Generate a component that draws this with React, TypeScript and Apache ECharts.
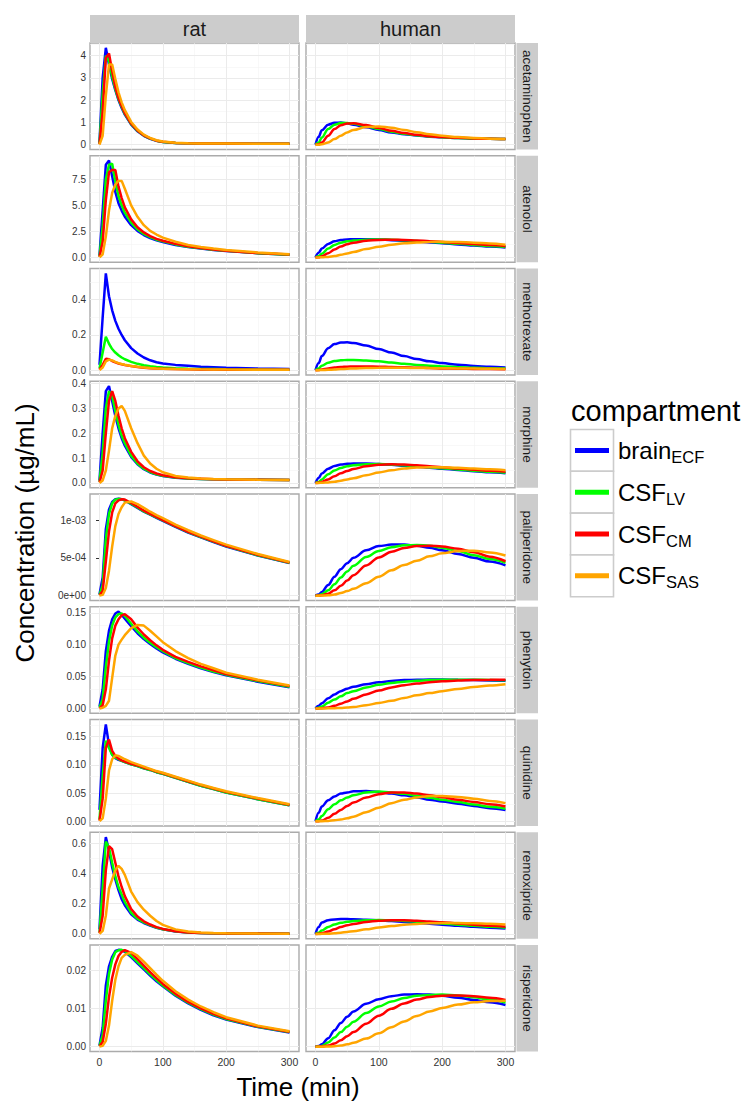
import React, { useEffect, useRef } from "react";
import * as echarts from "echarts";

// ---------- data ----------
const timeRat = [0, 5, 10, 15, 20, 25, 30, 35, 40, 50, 60, 70, 80, 90, 100, 120, 140, 160, 180, 200, 250, 300];
const timeHuman = [0, 5, 10, 20, 30, 40, 50, 60, 80, 100, 120, 140, 160, 180, 200, 225, 250, 275, 300];

const species = ["rat", "human"];
const drugs = ["acetaminophen", "atenolol", "methotrexate", "morphine", "paliperidone", "phenytoin", "quinidine", "remoxipride", "risperidone"];
const compartments = ["brainECF", "CSFLV", "CSFCM", "CSFSAS"];
const compartmentMain = ["brain", "CSF", "CSF", "CSF"];
const compartmentSub = ["ECF", "LV", "CM", "SAS"];
const compartmentColors = ["#0000FF", "#00FF00", "#FF0000", "#FFA500"];

// order inside each panel array: brainECF, CSFLV, CSFCM, CSFSAS
const acetaminophenRat = [
  [0.1, 3.0, 4.35, 3.6, 2.95, 2.45, 2.0, 1.65, 1.35, 0.9, 0.6, 0.4, 0.26, 0.17, 0.12, 0.08, 0.06, 0.05, 0.05, 0.05, 0.04, 0.04],
  [0.05, 2.3, 4.0, 3.75, 3.05, 2.5, 2.05, 1.7, 1.38, 0.92, 0.62, 0.41, 0.27, 0.18, 0.12, 0.08, 0.06, 0.05, 0.05, 0.05, 0.04, 0.04],
  [0.02, 1.5, 3.9, 4.1, 3.3, 2.6, 2.1, 1.75, 1.42, 0.95, 0.64, 0.42, 0.28, 0.18, 0.13, 0.08, 0.06, 0.05, 0.05, 0.05, 0.04, 0.04],
  [0, 0.4, 2.2, 3.6, 3.6, 2.95, 2.35, 1.9, 1.55, 1.02, 0.68, 0.45, 0.3, 0.2, 0.14, 0.09, 0.065, 0.055, 0.05, 0.05, 0.045, 0.04],
];
const acetaminophenHuman = [
  [0, 0.35, 0.65, 0.9, 0.98, 0.99, 0.96, 0.9, 0.78, 0.66, 0.55, 0.47, 0.41, 0.36, 0.33, 0.3, 0.28, 0.26, 0.25],
  [0, 0.1, 0.32, 0.7, 0.9, 0.97, 0.97, 0.94, 0.83, 0.7, 0.58, 0.49, 0.42, 0.37, 0.33, 0.3, 0.28, 0.26, 0.25],
  [0, 0.02, 0.1, 0.4, 0.7, 0.87, 0.95, 0.96, 0.88, 0.75, 0.62, 0.52, 0.44, 0.38, 0.34, 0.31, 0.28, 0.26, 0.25],
  [0, 0, 0.02, 0.1, 0.25, 0.4, 0.55, 0.66, 0.79, 0.82, 0.76, 0.66, 0.56, 0.47, 0.4, 0.34, 0.3, 0.27, 0.25],
];
const atenololRat = [
  [0.2, 4.5, 8.9, 9.3, 7.8, 6.3, 5.2, 4.5, 3.9, 3.1, 2.55, 2.15, 1.85, 1.65, 1.48, 1.2, 1.0, 0.85, 0.72, 0.62, 0.4, 0.25],
  [0.1, 3.0, 7.5, 8.9, 9.0, 7.3, 5.9, 5.0, 4.3, 3.35, 2.7, 2.25, 1.95, 1.7, 1.55, 1.25, 1.03, 0.87, 0.74, 0.63, 0.41, 0.26],
  [0.05, 1.5, 5.5, 8.2, 8.4, 8.4, 6.8, 5.7, 4.8, 3.65, 2.9, 2.4, 2.05, 1.78, 1.6, 1.3, 1.07, 0.9, 0.76, 0.65, 0.42, 0.27],
  [0, 0.3, 2.0, 4.5, 6.2, 7.0, 7.35, 7.35, 6.6, 5.0, 3.9, 3.1, 2.55, 2.2, 1.9, 1.5, 1.2, 1.0, 0.85, 0.72, 0.47, 0.3],
];
const atenololHuman = [
  [0, 0.45, 0.85, 1.3, 1.55, 1.68, 1.73, 1.75, 1.75, 1.72, 1.66, 1.6, 1.52, 1.44, 1.36, 1.25, 1.15, 1.05, 0.95],
  [0, 0.1, 0.35, 0.85, 1.2, 1.42, 1.55, 1.62, 1.7, 1.72, 1.7, 1.65, 1.58, 1.5, 1.42, 1.31, 1.2, 1.1, 1.0],
  [0, 0.02, 0.1, 0.4, 0.75, 1.05, 1.27, 1.42, 1.6, 1.68, 1.7, 1.68, 1.63, 1.56, 1.48, 1.38, 1.28, 1.18, 1.08],
  [0, 0, 0.01, 0.05, 0.13, 0.25, 0.38, 0.52, 0.8, 1.03, 1.22, 1.35, 1.44, 1.49, 1.5, 1.48, 1.42, 1.33, 1.22],
];
const methotrexateRat = [
  [0.03, 0.3, 0.55, 0.42, 0.34, 0.28, 0.235, 0.2, 0.17, 0.125, 0.095, 0.072, 0.056, 0.045, 0.038, 0.03, 0.025, 0.02, 0.017, 0.014, 0.009, 0.006],
  [0.01, 0.1, 0.19, 0.15, 0.12, 0.1, 0.085, 0.072, 0.062, 0.047, 0.036, 0.028, 0.022, 0.018, 0.015, 0.011, 0.008, 0.007, 0.006, 0.005, 0.004, 0.003],
  [0.003, 0.03, 0.065, 0.062, 0.052, 0.044, 0.038, 0.033, 0.029, 0.023, 0.018, 0.014, 0.011, 0.009, 0.008, 0.006, 0.005, 0.004, 0.0035, 0.003, 0.0025, 0.002],
  [0, 0.015, 0.05, 0.06, 0.055, 0.047, 0.04, 0.035, 0.031, 0.024, 0.019, 0.015, 0.012, 0.01, 0.0085, 0.0065, 0.0053, 0.0045, 0.004, 0.0035, 0.0028, 0.0022],
];
const methotrexateHuman = [
  [0, 0.04, 0.08, 0.125, 0.148, 0.157, 0.158, 0.154, 0.14, 0.12, 0.1, 0.08, 0.063, 0.05, 0.04, 0.031, 0.024, 0.019, 0.015],
  [0, 0.01, 0.025, 0.042, 0.052, 0.056, 0.058, 0.058, 0.055, 0.05, 0.043, 0.036, 0.03, 0.025, 0.021, 0.017, 0.014, 0.011, 0.009],
  [0, 0.001, 0.004, 0.01, 0.015, 0.018, 0.02, 0.021, 0.021, 0.02, 0.018, 0.016, 0.014, 0.012, 0.01, 0.0085, 0.007, 0.006, 0.005],
  [0, 0, 0.0005, 0.002, 0.004, 0.006, 0.008, 0.0095, 0.012, 0.013, 0.0135, 0.013, 0.0125, 0.012, 0.011, 0.01, 0.009, 0.008, 0.007],
];
const morphineRat = [
  [0.01, 0.2, 0.37, 0.39, 0.33, 0.27, 0.22, 0.18, 0.15, 0.105, 0.075, 0.055, 0.042, 0.034, 0.028, 0.021, 0.018, 0.016, 0.015, 0.014, 0.013, 0.012],
  [0.005, 0.12, 0.3, 0.37, 0.35, 0.29, 0.235, 0.19, 0.16, 0.11, 0.078, 0.057, 0.044, 0.035, 0.029, 0.022, 0.018, 0.016, 0.015, 0.014, 0.013, 0.012],
  [0.002, 0.05, 0.2, 0.33, 0.37, 0.33, 0.27, 0.22, 0.18, 0.125, 0.087, 0.063, 0.048, 0.038, 0.031, 0.023, 0.019, 0.017, 0.015, 0.014, 0.013, 0.012],
  [0, 0.01, 0.05, 0.13, 0.22, 0.27, 0.3, 0.31, 0.29, 0.22, 0.16, 0.11, 0.078, 0.057, 0.043, 0.028, 0.022, 0.018, 0.016, 0.015, 0.013, 0.012],
];
const morphineHuman = [
  [0, 0.02, 0.038, 0.057, 0.068, 0.074, 0.077, 0.078, 0.078, 0.076, 0.073, 0.069, 0.065, 0.061, 0.057, 0.052, 0.047, 0.043, 0.039],
  [0, 0.004, 0.014, 0.035, 0.05, 0.06, 0.067, 0.071, 0.075, 0.076, 0.074, 0.071, 0.067, 0.063, 0.059, 0.054, 0.049, 0.045, 0.041],
  [0, 0.001, 0.004, 0.014, 0.027, 0.039, 0.048, 0.056, 0.067, 0.073, 0.075, 0.074, 0.071, 0.067, 0.063, 0.058, 0.053, 0.049, 0.045],
  [0, 0, 0.0005, 0.002, 0.005, 0.009, 0.014, 0.019, 0.031, 0.042, 0.051, 0.058, 0.062, 0.063, 0.063, 0.061, 0.058, 0.055, 0.051],
];
const paliperidoneRat = [
  [2e-5, 2.4e-4, 8.8e-4, 1.14e-3, 1.24e-3, 1.275e-3, 1.28e-3, 1.275e-3, 1.26e-3, 1.21e-3, 1.16e-3, 1.11e-3, 1.07e-3, 1.03e-3, 9.9e-4, 9.1e-4, 8.35e-4, 7.7e-4, 7.1e-4, 6.5e-4, 5.3e-4, 4.3e-4],
  [1e-5, 1.4e-4, 7.5e-4, 1.08e-3, 1.22e-3, 1.27e-3, 1.28e-3, 1.275e-3, 1.26e-3, 1.215e-3, 1.165e-3, 1.115e-3, 1.075e-3, 1.035e-3, 9.95e-4, 9.15e-4, 8.4e-4, 7.75e-4, 7.15e-4, 6.55e-4, 5.35e-4, 4.33e-4],
  [5e-6, 6e-5, 4.5e-4, 8.5e-4, 1.1e-3, 1.22e-3, 1.26e-3, 1.275e-3, 1.27e-3, 1.225e-3, 1.175e-3, 1.125e-3, 1.08e-3, 1.04e-3, 1.0e-3, 9.2e-4, 8.45e-4, 7.8e-4, 7.2e-4, 6.6e-4, 5.4e-4, 4.38e-4],
  [0, 1e-5, 1e-4, 3.3e-4, 6.5e-4, 9.2e-4, 1.08e-3, 1.17e-3, 1.23e-3, 1.245e-3, 1.21e-3, 1.16e-3, 1.11e-3, 1.065e-3, 1.025e-3, 9.4e-4, 8.65e-4, 7.95e-4, 7.35e-4, 6.75e-4, 5.5e-4, 4.45e-4],
];
const paliperidoneHuman = [
  [0, 1.5e-5, 5e-5, 1.4e-4, 2.5e-4, 3.5e-4, 4.3e-4, 5.0e-4, 6.0e-4, 6.55e-4, 6.75e-4, 6.75e-4, 6.6e-4, 6.35e-4, 6.0e-4, 5.5e-4, 5.0e-4, 4.5e-4, 4.0e-4],
  [0, 5e-6, 2e-5, 7e-5, 1.5e-4, 2.4e-4, 3.2e-4, 3.95e-4, 5.1e-4, 5.9e-4, 6.4e-4, 6.65e-4, 6.7e-4, 6.6e-4, 6.35e-4, 5.9e-4, 5.35e-4, 4.85e-4, 4.35e-4],
  [0, 1e-6, 5e-6, 2.5e-5, 7e-5, 1.3e-4, 2.0e-4, 2.7e-4, 4.0e-4, 5.05e-4, 5.8e-4, 6.3e-4, 6.55e-4, 6.6e-4, 6.5e-4, 6.2e-4, 5.75e-4, 5.15e-4, 4.55e-4],
  [0, 0, 1e-6, 5e-6, 1.5e-5, 3.5e-5, 6e-5, 9e-5, 1.65e-4, 2.5e-4, 3.35e-4, 4.05e-4, 4.6e-4, 5.2e-4, 5.6e-4, 5.9e-4, 5.95e-4, 5.7e-4, 5.3e-4],
];
const phenytoinRat = [
  [0.003, 0.03, 0.09, 0.122, 0.14, 0.149, 0.152, 0.147, 0.141, 0.129, 0.118, 0.109, 0.101, 0.094, 0.088, 0.078, 0.07, 0.063, 0.057, 0.052, 0.042, 0.033],
  [0.001, 0.015, 0.065, 0.105, 0.13, 0.143, 0.148, 0.149, 0.145, 0.133, 0.121, 0.111, 0.103, 0.096, 0.09, 0.079, 0.071, 0.064, 0.058, 0.053, 0.043, 0.034],
  [0, 0.005, 0.03, 0.075, 0.11, 0.13, 0.14, 0.146, 0.148, 0.14, 0.127, 0.116, 0.107, 0.099, 0.092, 0.081, 0.073, 0.066, 0.06, 0.054, 0.044, 0.035],
  [0, 0.001, 0.004, 0.012, 0.048, 0.083, 0.1, 0.108, 0.115, 0.126, 0.131, 0.13, 0.122, 0.113, 0.104, 0.09, 0.079, 0.07, 0.063, 0.056, 0.045, 0.036],
];
const phenytoinHuman = [
  [0, 0.004, 0.008, 0.016, 0.022, 0.027, 0.031, 0.034, 0.038, 0.041, 0.043, 0.0445, 0.045, 0.0452, 0.0452, 0.045, 0.0445, 0.044, 0.0435],
  [0, 0.001, 0.003, 0.009, 0.014, 0.019, 0.024, 0.027, 0.033, 0.037, 0.04, 0.042, 0.0435, 0.0445, 0.045, 0.045, 0.045, 0.0447, 0.0443],
  [0, 0, 0.0003, 0.0015, 0.004, 0.0075, 0.011, 0.015, 0.022, 0.028, 0.033, 0.0365, 0.039, 0.041, 0.0425, 0.0438, 0.0445, 0.0448, 0.045],
  [0, 0, 0, 0.0001, 0.0003, 0.0007, 0.0013, 0.0022, 0.005, 0.0085, 0.012, 0.0165, 0.0205, 0.024, 0.027, 0.0305, 0.0335, 0.036, 0.038],
];
const quinidineRat = [
  [0.02, 0.13, 0.172, 0.135, 0.118, 0.112, 0.109, 0.107, 0.105, 0.101, 0.098, 0.094, 0.091, 0.087, 0.084, 0.077, 0.07, 0.063, 0.057, 0.051, 0.039, 0.028],
  [0.003, 0.08, 0.143, 0.13, 0.118, 0.113, 0.11, 0.107, 0.105, 0.101, 0.098, 0.094, 0.091, 0.087, 0.084, 0.077, 0.07, 0.063, 0.057, 0.051, 0.039, 0.028],
  [0.001, 0.04, 0.13, 0.145, 0.125, 0.116, 0.111, 0.108, 0.106, 0.102, 0.099, 0.095, 0.092, 0.088, 0.085, 0.078, 0.071, 0.064, 0.058, 0.052, 0.04, 0.029],
  [0, 0.005, 0.04, 0.09, 0.11, 0.117, 0.116, 0.113, 0.11, 0.105, 0.101, 0.097, 0.093, 0.089, 0.086, 0.079, 0.072, 0.065, 0.059, 0.053, 0.041, 0.03],
];
const quinidineHuman = [
  [0, 0.015, 0.026, 0.037, 0.044, 0.049, 0.051, 0.053, 0.0535, 0.052, 0.049, 0.046, 0.042, 0.038, 0.035, 0.031, 0.027, 0.023, 0.02],
  [0, 0.003, 0.009, 0.021, 0.03, 0.037, 0.042, 0.046, 0.051, 0.0525, 0.051, 0.0485, 0.045, 0.0415, 0.038, 0.034, 0.0295, 0.0255, 0.022],
  [0, 0, 0.001, 0.006, 0.013, 0.02, 0.027, 0.033, 0.042, 0.048, 0.051, 0.051, 0.049, 0.046, 0.0425, 0.038, 0.034, 0.03, 0.026],
  [0, 0, 0, 0.0005, 0.0015, 0.003, 0.005, 0.008, 0.016, 0.024, 0.032, 0.038, 0.042, 0.0445, 0.0445, 0.043, 0.04, 0.036, 0.032],
];
const remoxiprideRat = [
  [0.03, 0.45, 0.64, 0.55, 0.44, 0.36, 0.29, 0.23, 0.19, 0.13, 0.095, 0.072, 0.055, 0.04, 0.03, 0.016, 0.009, 0.006, 0.004, 0.003, 0.002, 0.001],
  [0.01, 0.3, 0.61, 0.57, 0.47, 0.38, 0.31, 0.26, 0.21, 0.14, 0.1, 0.076, 0.058, 0.042, 0.031, 0.017, 0.01, 0.006, 0.004, 0.003, 0.002, 0.001],
  [0.005, 0.12, 0.42, 0.58, 0.56, 0.47, 0.38, 0.31, 0.25, 0.165, 0.115, 0.083, 0.062, 0.045, 0.033, 0.018, 0.01, 0.006, 0.004, 0.003, 0.002, 0.001],
  [0, 0.02, 0.12, 0.3, 0.36, 0.42, 0.45, 0.43, 0.39, 0.28, 0.21, 0.16, 0.12, 0.085, 0.06, 0.03, 0.016, 0.009, 0.006, 0.004, 0.002, 0.001],
];
const remoxiprideHuman = [
  [0, 0.045, 0.075, 0.09, 0.096, 0.098, 0.098, 0.097, 0.094, 0.09, 0.085, 0.079, 0.073, 0.067, 0.061, 0.054, 0.047, 0.041, 0.036],
  [0, 0.008, 0.022, 0.046, 0.062, 0.073, 0.08, 0.085, 0.09, 0.092, 0.09, 0.086, 0.081, 0.075, 0.069, 0.061, 0.054, 0.047, 0.041],
  [0, 0.001, 0.004, 0.016, 0.031, 0.045, 0.057, 0.066, 0.079, 0.087, 0.09, 0.09, 0.087, 0.082, 0.077, 0.069, 0.061, 0.054, 0.047],
  [0, 0, 0.0003, 0.0015, 0.004, 0.008, 0.013, 0.018, 0.03, 0.042, 0.052, 0.06, 0.066, 0.07, 0.072, 0.072, 0.07, 0.067, 0.063],
];
const risperidoneRat = [
  [0.0003, 0.005, 0.016, 0.021, 0.0235, 0.025, 0.0253, 0.0252, 0.0248, 0.0234, 0.0218, 0.0202, 0.0186, 0.0171, 0.0158, 0.0133, 0.0113, 0.0096, 0.0082, 0.0071, 0.0051, 0.0037],
  [0.0002, 0.003, 0.012, 0.019, 0.0228, 0.0247, 0.0252, 0.0253, 0.025, 0.0237, 0.0221, 0.0205, 0.0189, 0.0174, 0.016, 0.0135, 0.0115, 0.0098, 0.0084, 0.0072, 0.0052, 0.0038],
  [0.0001, 0.0012, 0.006, 0.013, 0.018, 0.0215, 0.0237, 0.0248, 0.0252, 0.0245, 0.0229, 0.0212, 0.0195, 0.0179, 0.0164, 0.0138, 0.0117, 0.01, 0.0086, 0.0074, 0.0053, 0.0039],
  [0, 0.0002, 0.0015, 0.0055, 0.012, 0.0175, 0.021, 0.0232, 0.024, 0.0247, 0.0238, 0.0222, 0.0205, 0.0188, 0.0172, 0.0145, 0.0123, 0.0105, 0.009, 0.0077, 0.0055, 0.004],
];
const risperidoneHuman = [
  [0, 0.0002, 0.0006, 0.0022, 0.0043, 0.0062, 0.0078, 0.0092, 0.0112, 0.0124, 0.0132, 0.0136, 0.0137, 0.0136, 0.0133, 0.0128, 0.0122, 0.0116, 0.0109],
  [0, 0.00005, 0.0002, 0.0011, 0.0024, 0.0038, 0.0052, 0.0065, 0.0088, 0.0105, 0.0118, 0.0127, 0.0133, 0.0135, 0.0136, 0.0134, 0.0129, 0.0123, 0.0115],
  [0, 0, 0.00003, 0.0003, 0.0008, 0.0017, 0.0027, 0.0038, 0.006, 0.0081, 0.0099, 0.0113, 0.0123, 0.013, 0.0133, 0.0134, 0.0132, 0.0128, 0.0122],
  [0, 0, 0, 0.00003, 0.0001, 0.0003, 0.0006, 0.001, 0.0021, 0.0035, 0.0051, 0.0066, 0.008, 0.0092, 0.0101, 0.011, 0.0116, 0.0119, 0.012],
];

const yTicks = [
  [0, 1, 2, 3, 4],
  [0, 2.5, 5, 7.5],
  [0, 0.2, 0.4],
  [0, 0.1, 0.2, 0.3, 0.4],
  [0, 0.0005, 0.001],
  [0, 0.05, 0.1, 0.15],
  [0, 0.05, 0.1, 0.15],
  [0, 0.2, 0.4, 0.6],
  [0, 0.01, 0.02],
];
const yTickLabels = [
  ["0", "1", "2", "3", "4"],
  ["0.0", "2.5", "5.0", "7.5"],
  ["0.0", "0.2", "0.4"],
  ["0.0", "0.1", "0.2", "0.3", "0.4"],
  ["0e+00", "5e-04", "1e-03"],
  ["0.00", "0.05", "0.10", "0.15"],
  ["0.00", "0.05", "0.10", "0.15"],
  ["0.0", "0.2", "0.4", "0.6"],
  ["0.00", "0.01", "0.02"],
];
const xTicks = [0, 100, 200, 300];
const xMinorTicks = [50, 150, 250];

// table built from the arrays above
const drugPanels = [
  [acetaminophenRat, acetaminophenHuman],
  [atenololRat, atenololHuman],
  [methotrexateRat, methotrexateHuman],
  [morphineRat, morphineHuman],
  [paliperidoneRat, paliperidoneHuman],
  [phenytoinRat, phenytoinHuman],
  [quinidineRat, quinidineHuman],
  [remoxiprideRat, remoxiprideHuman],
  [risperidoneRat, risperidoneHuman],
];

// ---------- layout ----------
const FONT = '"Liberation Sans", Arial, Helvetica, sans-serif';
const panelLeft = [90, 306];
const panelWidth = 209;
const rowTop0 = 43;
const rowStep = 112.75;
const rowHeight = 106.5;
const stripTop = 15;
const stripRightX = 516.5;
const stripRightW = 21.5;

function buildOption() {
  const grids: any[] = [];
  const xAxes: any[] = [];
  const yAxes: any[] = [];
  const series: any[] = [];
  const graphic: any[] = [];

  const majorLine = { color: "#EBEBEB", width: 1, type: "solid" };
  const minorLine = { color: "#F4F4F4", width: 0.6, type: "solid" };

  drugs.forEach((drug, r) => {
    const panels = drugPanels[r];
    const all: number[] = [];
    panels.forEach((p) => p.forEach((arr) => arr.forEach((v) => all.push(v))));
    const lo = Math.min(...all);
    const hi = Math.max(...all);
    const pad = 0.05 * (hi - lo);
    const yMin = lo - pad;
    const yMax = hi + pad;
    const ticks = yTicks[r];
    const labels = yTickLabels[r];
    const step = ticks[1] - ticks[0];
    const minors = [ticks[0] - step / 2, ...ticks.map((t) => t + step / 2)].filter((v) => v > yMin && v < yMax);
    const top = rowTop0 + r * rowStep;
    const last = r === drugs.length - 1;

    species.forEach((sp, c) => {
      const gi = r * 2 + c;
      grids.push({
        left: panelLeft[c],
        top,
        width: panelWidth,
        height: rowHeight,
        show: true,
        backgroundColor: "#FFFFFF",
        borderColor: "#ABABAB",
        borderWidth: 1.4,
        containLabel: false,
      });
      xAxes.push({
        type: "value",
        gridIndex: gi,
        min: -15,
        max: 315,
        axisLine: { show: false },
        splitLine: { show: false },
        axisTick: { show: last, customValues: xTicks, length: 3.5, lineStyle: { color: "#333333", width: 1 } },
        axisLabel: {
          show: last,
          customValues: xTicks,
          formatter: (v: number) => String(Math.round(v)),
          fontSize: 10.5,
          color: "#333333",
          fontFamily: FONT,
          margin: 4.5,
        },
      });
      yAxes.push({
        type: "value",
        gridIndex: gi,
        min: yMin,
        max: yMax,
        axisLine: { show: false },
        splitLine: { show: false },
        axisTick: { show: c === 0, customValues: ticks, length: 3.5, lineStyle: { color: "#333333", width: 1 } },
        axisLabel: {
          show: c === 0,
          customValues: ticks,
          formatter: (v: number) => {
            const i = ticks.findIndex((t) => Math.abs(t - v) < 1e-12);
            return i >= 0 ? labels[i] : "";
          },
          fontSize: 10,
          color: "#333333",
          fontFamily: FONT,
          margin: 4,
        },
      });

      const times = c === 0 ? timeRat : timeHuman;
      const gridData: any[] = [];
      minors.forEach((v) => gridData.push({ yAxis: v, lineStyle: minorLine }));
      xMinorTicks.forEach((v) => gridData.push({ xAxis: v, lineStyle: minorLine }));
      ticks.forEach((v) => gridData.push({ yAxis: v, lineStyle: majorLine }));
      xTicks.forEach((v) => gridData.push({ xAxis: v, lineStyle: majorLine }));

      panels[c].forEach((vals, k) => {
        series.push({
          type: "line",
          name: compartments[k],
          xAxisIndex: gi,
          yAxisIndex: gi,
          data: times.map((t, i) => [t, vals[i]]),
          symbol: "none",
          showSymbol: false,
          smooth: c === 1 ? 0.35 : false,
          smoothMonotone: "x",
          silent: true,
          z: 3,
          lineStyle: { width: 2.5, color: compartmentColors[k] },
          itemStyle: { color: compartmentColors[k] },
          emphasis: { disabled: true },
          markLine:
            k === 0
              ? {
                  silent: true,
                  z: 1,
                  symbol: ["none", "none"],
                  label: { show: false },
                  emphasis: { disabled: true },
                  animation: false,
                  data: gridData,
                }
              : undefined,
        });
      });
    });

    // right strip
    graphic.push({
      type: "rect",
      shape: { x: stripRightX, y: top, width: stripRightW, height: rowHeight },
      style: { fill: "#CCCCCC" },
    });
    graphic.push({
      type: "text",
      x: stripRightX + stripRightW / 2,
      y: top + rowHeight / 2,
      rotation: -Math.PI / 2,
      style: { text: drug, fontSize: 13.5, fontFamily: FONT, fill: "#1A1A1A", align: "center", verticalAlign: "middle" },
    });
  });

  // top strips
  species.forEach((sp, c) => {
    graphic.push({
      type: "rect",
      shape: { x: panelLeft[c], y: stripTop, width: panelWidth, height: rowTop0 - stripTop },
      style: { fill: "#CCCCCC" },
    });
    graphic.push({
      type: "text",
      x: panelLeft[c] + panelWidth / 2,
      y: (stripTop + rowTop0) / 2,
      style: { text: sp, fontSize: 20, fontFamily: FONT, fill: "#1A1A1A", align: "center", verticalAlign: "middle" },
    });
  });

  // axis titles
  graphic.push({
    type: "text",
    x: 298,
    y: 1087,
    style: { text: "Time (min)", fontSize: 26, fontFamily: FONT, fill: "#000000", align: "center", verticalAlign: "middle" },
  });
  graphic.push({
    type: "text",
    x: 25,
    y: 533,
    rotation: Math.PI / 2,
    style: { text: "Concentration (µg/mL)", fontSize: 26, fontFamily: FONT, fill: "#000000", align: "center", verticalAlign: "middle" },
  });

  // legend: title, key boxes, key lines and labels
  graphic.push({
    type: "text",
    x: 571,
    y: 411,
    style: { text: "compartment", fontSize: 29, fontFamily: FONT, fill: "#000000", align: "left", verticalAlign: "middle" },
  });
  const keyTop = 429.5;
  const keyH = 41.8;
  compartments.forEach((cName, i) => {
    const cy = keyTop + (i + 0.5) * keyH;
    graphic.push({
      type: "rect",
      shape: { x: 570.5, y: keyTop + i * keyH, width: 43, height: keyH },
      style: { fill: "#FFFFFF", stroke: "#CCCCCC", lineWidth: 1.6 },
    });
    graphic.push({
      type: "line",
      shape: { x1: 575, y1: cy, x2: 609, y2: cy },
      style: { stroke: compartmentColors[i], lineWidth: 5 },
    });
    graphic.push({
      type: "text",
      x: 618,
      y: cy,
      style: {
        text: `{n|${compartmentMain[i]}}{s|${compartmentSub[i]}}`,
        align: "left",
        verticalAlign: "middle",
        fontFamily: FONT,
        rich: {
          n: { fontSize: 24, lineHeight: 30, fill: "#000000", color: "#000000", fontFamily: FONT },
          s: { fontSize: 16.5, lineHeight: 14, verticalAlign: "bottom", fill: "#000000", color: "#000000", fontFamily: FONT },
        },
      },
    });
  });

  return {
    animation: false,
    backgroundColor: "#FFFFFF",
    grid: grids,
    xAxis: xAxes,
    yAxis: yAxes,
    series,
    graphic: { elements: graphic },
  };
}

export default function App() {
  const ref = useRef<HTMLDivElement>(null);
  useEffect(() => {
    document.body.style.margin = "0";
    const chart = echarts.init(ref.current as HTMLDivElement, null, { renderer: "svg" });
    chart.setOption(buildOption() as any);
    return () => {
      chart.dispose();
    };
  }, []);
  return <div ref={ref} style={{ width: 744, height: 1102 }} />;
}
